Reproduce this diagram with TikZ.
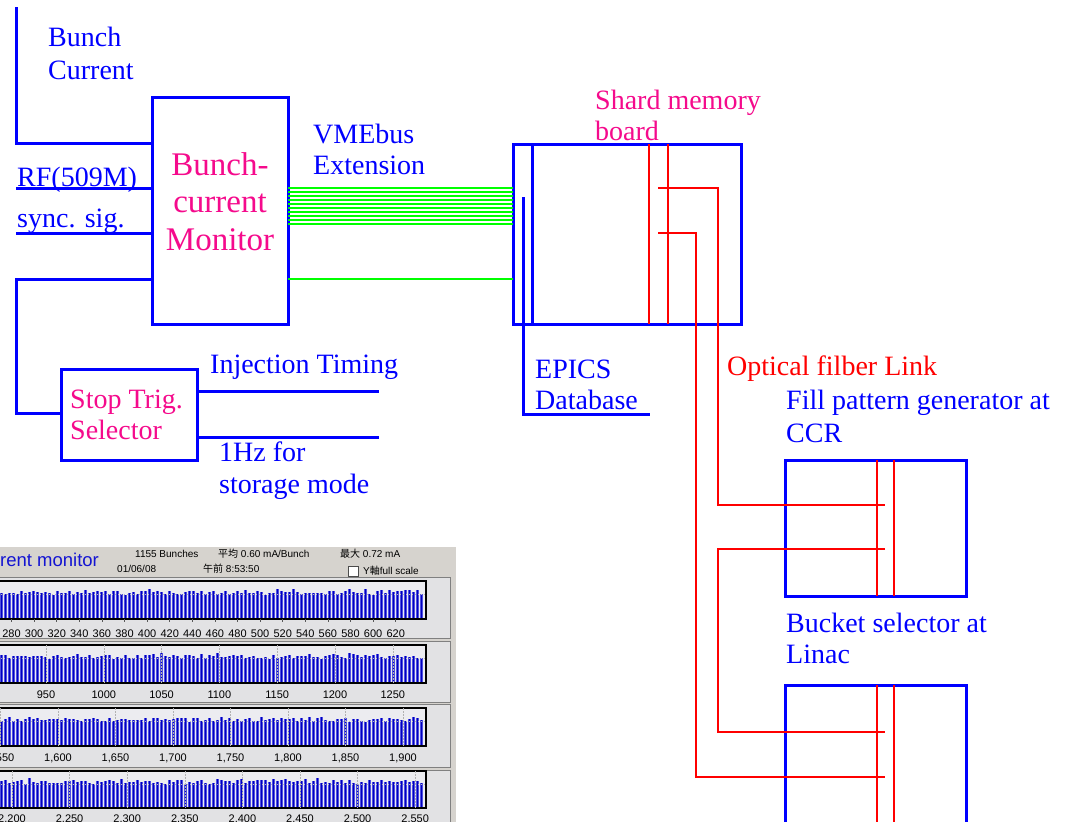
\documentclass[tikz,border=0pt]{standalone}
\usepackage{fontspec}
\setmainfont{Liberation Serif}
\newfontfamily\uisans{Liberation Sans}
\newfontfamily\jpfont{Noto Sans CJK JP}
\definecolor{sigblue}{RGB}{0,0,255}
\definecolor{magtext}{RGB}{245,10,140}
\definecolor{busgreen}{RGB}{0,255,0}
\definecolor{fibred}{RGB}{255,0,0}
\definecolor{hdrgray}{RGB}{214,211,206}
\definecolor{panelgray}{RGB}{226,226,228}
\definecolor{chartbg}{RGB}{236,236,240}
\definecolor{barblue}{RGB}{0,0,190}
\definecolor{barhalo}{RGB}{80,80,225}
\definecolor{titleblue}{RGB}{20,20,210}
\begin{document}
\begin{tikzpicture}[x=1pt,y=-1pt,
  box/.style={draw=sigblue, line width=3pt, inner sep=0pt, outer sep=0pt, anchor=north west},
  bw/.style={draw=sigblue, line width=3pt},
  rw/.style={draw=fibred, line width=2.7pt},
  gw/.style={draw=busgreen, line width=2.5pt},
  lbl/.style={text=sigblue, font=\fontsize{28}{33}\selectfont, inner sep=0pt, anchor=base west},
  mlbl/.style={text=magtext, font=\fontsize{28}{33}\selectfont, inner sep=0pt, anchor=base west},
  bigm/.style={text=magtext, font=\fontsize{33}{38}\selectfont, inner sep=0pt, anchor=base},
  rlbl/.style={text=fibred, font=\fontsize{28}{33}\selectfont, inner sep=0pt, anchor=base west},
  axlbl/.style={font=\uisans\fontsize{11}{13}\selectfont, inner sep=0pt, anchor=base},
  hdr/.style={font=\uisans\fontsize{10}{12}\selectfont, inner sep=0pt, anchor=base west},
]
\clip (0,0) rectangle (1077,822);
\fill[white] (0,0) rectangle (1077,822);

% ---------------- boxes ----------------
\node[box, minimum width=136pt, minimum height=227pt] (bcm) at (152,97) {};
\node[box, minimum width=136pt, minimum height=91pt] (stb) at (61,369) {};
\node[box, minimum width=228pt, minimum height=180pt] (smb) at (513,144) {};
\node[box, minimum width=181pt, minimum height=136pt] (fpg) at (785,460) {};
\node[box, minimum width=181pt, minimum height=160pt] (bsl) at (785,685) {};

% inner lines of boxes
\draw[bw] (532,144) -- (532,324);
\draw[rw] (649,144) -- (649,324);
\draw[rw] (668,144) -- (668,324);
\draw[rw] (877,460) -- (877,596);
\draw[rw] (894,460) -- (894,596);
\draw[rw] (877,685) -- (877,840);
\draw[rw] (894,685) -- (894,840);

% ---------------- coordinates ----------------
\coordinate (bcsrc) at (16,7);
\coordinate (bcm-in1) at (152,143);
\coordinate (rfsrc) at (16,188);
\coordinate (bcm-in2) at (152,188);
\coordinate (syncsrc) at (16,233);
\coordinate (bcm-in3) at (152,233);
\coordinate (bcm-out) at (152,279);
\coordinate (stb-in) at (61,413);
\coordinate (stb-o1) at (197,391);
\coordinate (injend) at (379,391);
\coordinate (stb-o2) at (197,437);
\coordinate (hzend) at (379,437);
\coordinate (epics-top) at (523,197);
\coordinate (epics-end) at (650,414);
\coordinate (smb-r1) at (658,188);
\coordinate (smb-r2) at (658,233);
\coordinate (fpg-in1) at (885,505);
\coordinate (fpg-in2) at (885,549);
\coordinate (bsl-in1) at (885,732);
\coordinate (bsl-in2) at (885,777);

% ---------------- blue signal wires ----------------
\draw[bw] (bcsrc) |- (bcm-in1);
\draw[bw] (rfsrc) -- (bcm-in2);
\draw[bw] (syncsrc) -- (bcm-in3);
\draw[bw] (bcm-out) -| (16,413) -- (stb-in);
\draw[bw] (stb-o1) -- (injend);
\draw[bw] (stb-o2) -- (hzend);
\draw[bw] (epics-top) |- (epics-end);

% ---------------- green VMEbus ----------------
\foreach \k in {0,...,9} {
  \draw[gw] (bcm.east |- {0,188+4*\k}) -- (smb.west |- {0,188+4*\k});
}
\draw[gw] (bcm.east |- {0,279}) -- (smb.west |- {0,279});

% ---------------- red fibre links ----------------
\draw[rw] (smb-r1) -| (718,505) -- (fpg-in1);
\draw[rw] (smb-r2) -| (696,777) -- (bsl-in2);
\draw[rw] (fpg-in2) -| (718,732) -- (bsl-in1);

% ---------------- labels ----------------
\node[lbl] (t-bunch) at (48,46.7) {Bunch};
\node[lbl] (t-current) at (48,79) {Current};
\node[lbl] (t-vme) at (313,143) {VMEbus};
\node[lbl] (t-ext) at (313,174) {Extension};
\node[lbl] (t-rf) at (17,186) {RF(509M)};
\node[lbl] (t-sync) at (17,227) {sync. sig.};
\node[bigm] (t-bcm1) at (220,175) {Bunch-};
\node[bigm] (t-bcm2) at (220,212) {current};
\node[bigm] (t-bcm3) at (220,250) {Monitor};
\node[mlbl] (t-shard) at (595,109) {Shard memory};
\node[mlbl] (t-board) at (595,140) {board};
\node[lbl] (t-epics) at (535,378) {EPICS};
\node[lbl] (t-db) at (535,409) {Database};
\node[rlbl] (t-opt) at (727,375) {Optical filber Link};
\node[lbl] (t-fill) at (786,409) {Fill pattern generator at};
\node[lbl] (t-ccr) at (786,442) {CCR};
\node[lbl] (t-bucket) at (786,632) {Bucket selector at};
\node[lbl] (t-linac) at (786,663) {Linac};
\node[mlbl] (t-stop) at (70,408) {Stop Trig.};
\node[mlbl] (t-sel) at (70,439) {Selector};
\node[lbl] (t-inj) at (210,373) {Injection Timing};
\node[lbl] (t-hz) at (219,461) {1Hz for};
\node[lbl] (t-stor) at (219,493) {storage mode};

% ---------------- screenshot ----------------
\begin{scope}
\clip (0,547) rectangle (456,822);
\fill[hdrgray] (0,547) rectangle (456,822);
\foreach \t/\b in {577/638, 641/702, 704/767, 770/835} {
  \fill[panelgray] (-5,\t) rectangle (450,\b);
  \draw[gray, line width=1pt] (-5,\t) -- (450,\t) -- (450,\b) -- (-5,\b);
}
\pgfmathsetseed{4242}
\foreach \T/\B in {581/619, 645/683, 708/746, 771/808} {
  \fill[chartbg] (-5,\T) rectangle (426,\B);
  \foreach \i in {0,...,105} {
    \pgfmathsetmacro\xx{1.5+4*\i}
    \pgfmathsetmacro\hh{24+4*rnd+3*rnd*rnd}
    \draw[barhalo, line width=2.1pt] (\xx,\B) -- ++(0,-\hh);
    \draw[barblue, line width=1.4pt] (\xx,\B) -- ++(0,-\hh);
  }
  \draw[gray!55, dash pattern=on 1pt off 2pt, line width=0.6pt] (-5,\T+13) -- (426,\T+13);
  \draw[black, line width=1.2pt] (-5,\T) -- (426,\T) -- (426,\B) -- (-5,\B);
}
% axis labels
\foreach \v [count=\k from 0] in {280,300,320,340,360,380,400,420,440,460,480,500,520,540,560,580,600,620} {
  \node[axlbl] (s1-\k) at ({11.5+22.6*\k},637) {\v};
  \draw[gray!70!black, line width=0.6pt] ({11.5+22.6*\k},619) -- ++(0,3);
}
\foreach \v [count=\k from 0] in {950,1000,1050,1100,1150,1200,1250} {
  \node[axlbl] (s2-\k) at ({46+57.8*\k},698) {\v};
  \draw[gray!60, dash pattern=on 1.5pt off 1.5pt, line width=0.6pt] ({46+57.8*\k},645) -- ({46+57.8*\k},683);
}
\foreach \v [count=\k from 0] in {1{,}550,1{,}600,1{,}650,1{,}700,1{,}750,1{,}800,1{,}850,1{,}900} {
  \node[axlbl] (s3-\k) at ({0.5+57.5*\k},761) {\v};
  \draw[gray!60, dash pattern=on 1.5pt off 1.5pt, line width=0.6pt] ({0.5+57.5*\k},708) -- ({0.5+57.5*\k},746);
}
\foreach \v [count=\k from 0] in {2{,}200,2{,}250,2{,}300,2{,}350,2{,}400,2{,}450,2{,}500,2{,}550} {
  \node[axlbl] (s4-\k) at ({12+57.6*\k},822) {\v};
  \draw[gray!60, dash pattern=on 1.5pt off 1.5pt, line width=0.6pt] ({12+57.6*\k},771) -- ({12+57.6*\k},808);
}
% header
\node[inner sep=0pt, anchor=base west, text=titleblue, font=\uisans\fontsize{18.5}{20}\selectfont] (ttl) at (0,566) {rent monitor};
\node[hdr] (h1) at (135,557) {1155 Bunches};
\node[hdr] (h2) at (117,572) {01/06/08};
\node[hdr] (h3) at (218,557) {{\jpfont 平均}\ 0.60 mA/Bunch};
\node[hdr] (h4) at (203,572) {{\jpfont 午前}\ 8:53:50};
\node[hdr] (h5) at (340,557) {{\jpfont 最大}\ 0.72 mA};
\node[draw=black!70, fill=white, line width=0.8pt, minimum size=10pt, inner sep=0pt, anchor=north west] (chk) at (348,566) {};
\node[hdr] (h6) at (363,574) {Y{\jpfont 軸}full scale};
\end{scope}
\end{tikzpicture}
\end{document}
